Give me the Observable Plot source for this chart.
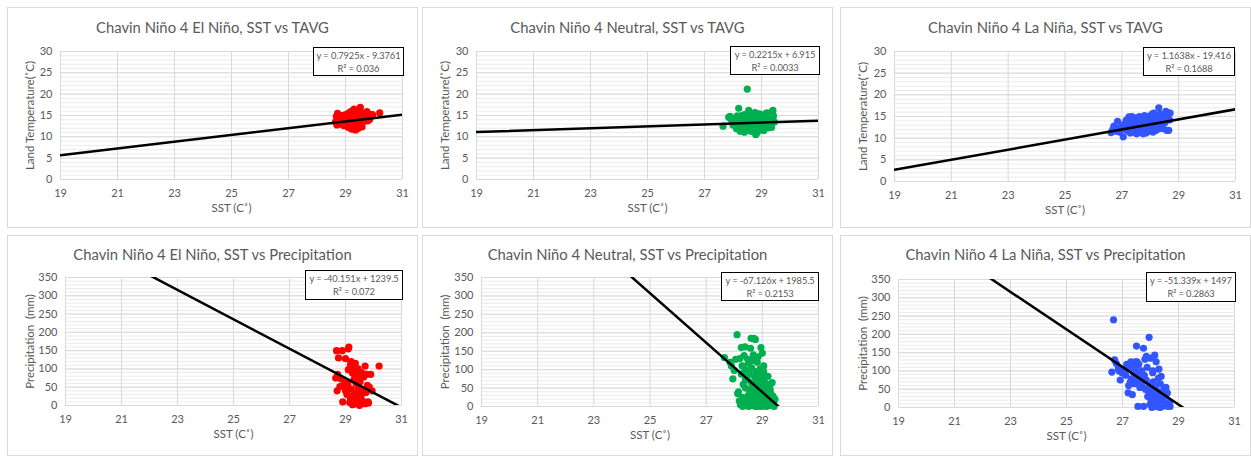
<!DOCTYPE html>
<html><head><meta charset="utf-8">
<script src="https://cdn.jsdelivr.net/npm/d3@7"></script>
<script src="https://cdn.jsdelivr.net/npm/@observablehq/plot@0.6"></script>
<style>
body{margin:0;background:#fff;font-family:Lato, "Open Sans", sans-serif;}
#root{position:relative;width:1251px;height:456px;overflow:hidden;background:#fff}
.panel{position:absolute;border:1px solid #d9d9d9;box-sizing:border-box;background:#fff;overflow:hidden}
.title{position:absolute;left:0;right:0;text-align:center;color:#595959;font-size:14.8px;white-space:nowrap}
.eq{position:absolute;border:1.3px solid #000;background:#fff;color:#595959;font-size:9.3px;letter-spacing:-0.1px;text-align:center;box-sizing:border-box;display:flex;flex-direction:column;justify-content:center;line-height:13px;white-space:nowrap}
.panel svg{position:absolute;left:0;top:0}
</style></head>
<body><div id="root"></div>
<script>
// ---------- data ----------
const xTicks = [19, 21, 23, 25, 27, 29, 31];
const tempTicks = [0, 5, 10, 15, 20, 25, 30];
const precipTicks = [0, 50, 100, 150, 200, 250, 300, 350];

const titles = [
  "Chavin Niño 4 El Niño, SST vs TAVG",
  "Chavin Niño 4 Neutral, SST vs TAVG",
  "Chavin Niño 4 La Niña, SST vs TAVG",
  "Chavin Niño 4 El Niño, SST vs Precipitation",
  "Chavin Niño 4 Neutral, SST vs Precipitation",
  "Chavin Niño 4 La Niña, SST vs Precipitation"
];
const slopes = [0.7925, 0.2215, 1.1638, -40.151, -67.126, -51.339];
const intercepts = [-9.3761, 6.915, -19.416, 1239.5, 1985.5, 1497];
const eqLabels = ["y = 0.7925x - 9.3761", "y = 0.2215x + 6.915", "y = 1.1638x - 19.416",
  "y = -40.151x + 1239.5", "y = -67.126x + 1985.5", "y = -51.339x + 1497"];
const r2Labels = ["R² = 0.036", "R² = 0.0033", "R² = 0.1688", "R² = 0.072", "R² = 0.2153", "R² = 0.2863"];
const phaseColors = ["#ff0000", "#00b050", "#3355ff"];

const elNinoSST = [28.65,28.68,28.70,28.72,28.75,28.80,28.85,28.88,28.90,28.95,29.00,29.00,29.05,29.05,29.10,29.10,29.12,29.15,29.18,29.20,29.20,29.22,29.25,29.25,29.28,29.30,29.30,29.32,29.35,29.35,29.38,29.40,29.40,29.42,29.45,29.45,29.48,29.50,29.52,29.55,29.55,29.58,29.60,29.62,29.65,29.70,29.70,29.72,29.75,29.78,29.80,29.82,29.85,29.90,29.95,30.20,29.08,29.28,29.18,29.38];
const elNinoTAVG = [13.5,14.8,12.8,15.5,13.9,14.2,13.0,15.0,14.4,12.6,14.0,15.2,13.3,14.7,12.2,14.1,15.6,13.6,12.9,14.5,16.0,11.8,13.4,15.3,14.0,12.4,16.5,14.9,11.6,13.8,15.8,12.7,14.6,13.2,16.2,12.0,14.3,15.1,16.9,13.5,14.8,12.3,15.5,13.9,14.5,15.0,13.7,14.2,15.9,14.6,13.8,15.3,14.1,14.9,15.2,15.6,13.0,12.8,15.4,13.1];
const elNinoPrecip = [75,150,40,85,130,52,72,150,10,55,40,128,30,62,155,98,160,8,112,120,45,20,88,2,105,70,25,95,115,5,60,35,92,15,100,48,80,0,65,22,42,90,12,38,78,5,108,35,85,55,10,7,50,85,40,108,58,28,18,75];

const neutralSST = [27.65,27.85,27.90,27.95,28.00,28.05,28.10,28.12,28.15,28.18,28.20,28.22,28.25,28.25,28.28,28.30,28.30,28.32,28.35,28.35,28.38,28.40,28.40,28.42,28.45,28.45,28.48,28.50,28.50,28.52,28.55,28.55,28.58,28.60,28.60,28.62,28.62,28.65,28.65,28.68,28.68,28.70,28.70,28.72,28.72,28.75,28.75,28.78,28.78,28.80,28.80,28.82,28.82,28.85,28.85,28.88,28.88,28.90,28.90,28.92,28.92,28.95,28.95,28.98,29.00,29.00,29.02,29.02,29.05,29.05,29.08,29.08,29.10,29.10,29.12,29.15,29.15,29.18,29.20,29.20,29.22,29.25,29.25,29.28,29.30,29.30,29.32,29.35,29.35,29.38,29.40,29.42,29.45,28.58,28.48,28.65,28.85,29.05,28.40,28.95,29.12,28.75,28.55,29.28,28.32];
const neutralTAVG = [12.5,14.6,14.8,13.9,12.8,14.2,13.4,11.9,14.9,12.6,16.7,13.1,11.3,14.0,12.2,13.7,15.0,11.6,12.9,14.4,13.3,11.1,15.2,12.5,14.1,13.0,11.8,21.2,14.7,12.7,16.2,13.5,11.4,14.3,12.1,15.3,13.2,14.8,11.9,13.6,12.4,15.5,14.0,11.2,13.0,14.6,12.6,13.9,15.7,10.5,13.4,12.2,14.9,11.0,13.7,15.1,12.8,14.2,11.6,13.3,15.4,12.0,14.5,13.1,14.8,11.8,13.6,12.5,15.0,14.1,12.9,11.5,13.8,15.2,12.3,14.4,13.0,15.6,12.7,14.0,13.5,12.1,14.7,13.2,15.3,12.6,14.2,12.2,15.8,13.6,16.2,14.9,13.5,14.0,13.8,11.3,14.0,12.0,12.3,13.7,14.6,11.6,12.9,14.5,14.6];
const neutralPrecip = [133,120,110,75,98,128,195,35,40,15,130,5,88,160,110,25,0,60,138,8,162,50,100,20,75,2,128,30,118,0,88,45,12,185,65,3,105,35,18,140,55,185,5,82,28,182,0,95,42,70,10,120,22,0,58,88,4,32,76,15,102,160,48,0,145,25,65,8,95,38,2,55,18,78,45,0,30,60,12,82,3,40,22,58,6,35,15,65,2,28,10,0,20,158,95,125,135,110,72,88,52,45,5,45,90];

const laNinaSST = [26.62,26.68,26.72,26.78,26.85,26.88,26.92,26.98,27.05,27.08,27.12,27.15,27.20,27.22,27.25,27.28,27.30,27.32,27.35,27.38,27.40,27.42,27.45,27.48,27.50,27.52,27.55,27.55,27.58,27.60,27.62,27.65,27.68,27.70,27.72,27.75,27.75,27.78,27.80,27.82,27.85,27.85,27.88,27.90,27.92,27.95,27.95,27.98,28.00,28.00,28.02,28.05,28.05,28.08,28.10,28.10,28.12,28.15,28.15,28.18,28.20,28.20,28.22,28.25,28.25,28.28,28.30,28.30,28.32,28.35,28.35,28.38,28.40,28.42,28.45,28.48,28.50,28.52,28.55,28.58,28.60,28.62,28.65,28.68,28.70,27.38,27.68,27.45,27.62,28.08];
const laNinaTAVG = [11.3,12.0,12.8,11.6,13.9,12.2,11.4,12.6,10.3,13.2,12.0,14.1,11.7,13.5,14.9,12.4,11.2,13.8,15.0,12.8,11.5,14.4,13.1,12.0,14.7,11.0,13.4,12.3,14.0,11.4,13.0,12.2,14.5,11.8,13.6,12.6,11.0,14.2,15.2,12.0,13.3,11.2,14.8,12.5,13.9,11.6,15.0,12.9,14.1,11.9,13.5,15.5,12.3,14.5,11.4,13.1,15.8,12.7,14.0,13.4,11.8,15.2,12.5,14.8,13.7,12.1,17.0,14.3,13.0,15.6,12.6,14.6,13.3,15.0,12.2,14.0,15.3,13.6,16.2,11.8,14.5,15.9,11.8,14.2,15.8,13.8,12.9,11.6,15.0,13.8];
const laNinaPrecip = [97,240,130,120,105,100,75,95,102,92,88,118,40,60,112,70,125,78,35,120,95,65,105,85,168,125,3,70,118,95,62,90,80,58,72,3,162,88,132,50,140,75,110,30,45,192,62,8,135,40,20,55,0,95,12,70,35,143,5,60,125,25,15,45,2,80,30,105,8,65,0,85,40,22,4,50,10,30,55,38,40,3,5,15,3,100,100,125,55,100];

// ---------- layout ----------
const panels = [
  {left:7, top:7, w:411, h:221, mL:52, mR:15, mT:43, mB:48, tTop:10, eq:[305,39,91,29]},
  {left:422, top:7, w:411, h:221, mL:53, mR:14, mT:43, mB:48, tTop:10, eq:[307,38,90,29]},
  {left:840, top:7, w:411, h:221, mL:53, mR:15, mT:43, mB:46, tTop:10, eq:[302,39,92,29]},
  {left:7, top:235, w:411, h:221, mL:57, mR:16, mT:41, mB:50, tTop:9, eq:[297,34,98,30]},
  {left:422, top:235, w:411, h:221, mL:58, mR:14, mT:41, mB:49, tTop:9, eq:[298,36,98,29]},
  {left:840, top:235, w:411, h:221, mL:57, mR:16, mT:43, mB:48, tTop:9, eq:[305,36,90,30]}
];

const phaseData = [
  [elNinoSST, elNinoTAVG, elNinoPrecip],
  [neutralSST, neutralTAVG, neutralPrecip],
  [laNinaSST, laNinaTAVG, laNinaPrecip]
];

const root = document.getElementById("root");
for (let i = 0; i < 6; i++) {
  const p = panels[i];
  const phase = i % 3;
  const isTemp = i < 3;
  const [sst, tavg, prec] = phaseData[phase];
  const yv = isTemp ? tavg : prec;
  const pts = sst.map((x, k) => ({x, y: yv[k]}));
  const yTicks = isTemp ? tempTicks : precipTicks;
  const yDomain = [yTicks[0], yTicks[yTicks.length - 1]];
  const yMinor = isTemp ? d3.range(0, 30.01, 1) : d3.range(0, 350.01, 10);
  const trend = [xTicks[0], xTicks[xTicks.length - 1]].map(x => ({x, y: slopes[i] * x + intercepts[i]}));
  const yLabel = isTemp ? "Land Temperature(˚C)" : "Precipitation  (mm)";

  const chart = Plot.plot({
    width: p.w - 2, height: p.h - 2,
    marginLeft: p.mL, marginRight: p.mR, marginTop: p.mT, marginBottom: p.mB,
    style: {fontSize: "11px", color: "#595959", fontFamily: "Lato, sans-serif", background: "transparent"},
    x: {domain: [19, 31]},
    y: {domain: yDomain},
    marks: [
      Plot.gridY(yMinor, {stroke: "#ebebeb", strokeOpacity: 1}),
      Plot.gridY(yTicks, {stroke: "#d9d9d9", strokeOpacity: 1}),
      Plot.gridX(xTicks, {stroke: "#d9d9d9", strokeOpacity: 1}),
      Plot.axisX({ticks: xTicks, tickSize: 0, tickPadding: 10, label: null, fill: "#595959"}),
      Plot.axisY({ticks: yTicks, tickSize: 0, tickPadding: 8, label: null, fill: "#595959"}),
      Plot.dot(pts, {x: "x", y: "y", r: 3.6, fill: phaseColors[phase], stroke: "none"}),
      Plot.line(trend, {x: "x", y: "y", stroke: "#000", strokeWidth: 2.5, clip: true}),
      Plot.text([yLabel], {text: d => d, frameAnchor: "left", textAnchor: "middle", dx: -(p.mL - 22), rotate: -90, fill: "#595959", fontSize: 11.5}),
      Plot.text(["SST (C˚)"], {text: d => d, frameAnchor: "bottom", dy: 32, fill: "#595959", fontSize: 11.5})
    ]
  });

  const div = document.createElement("div");
  div.className = "panel";
  Object.assign(div.style, {left: p.left + "px", top: p.top + "px", width: p.w + "px", height: p.h + "px"});
  div.appendChild(chart);
  const t = document.createElement("div");
  t.className = "title";
  t.style.top = p.tTop + "px";
  t.textContent = titles[i];
  div.appendChild(t);
  const eq = document.createElement("div");
  eq.className = "eq";
  Object.assign(eq.style, {left: p.eq[0] + "px", top: p.eq[1] + "px", width: p.eq[2] + "px", height: p.eq[3] + "px"});
  eq.innerHTML = `<div>${eqLabels[i]}</div><div>${r2Labels[i]}</div>`;
  div.appendChild(eq);
  root.appendChild(div);
}
</script>
</body></html>
